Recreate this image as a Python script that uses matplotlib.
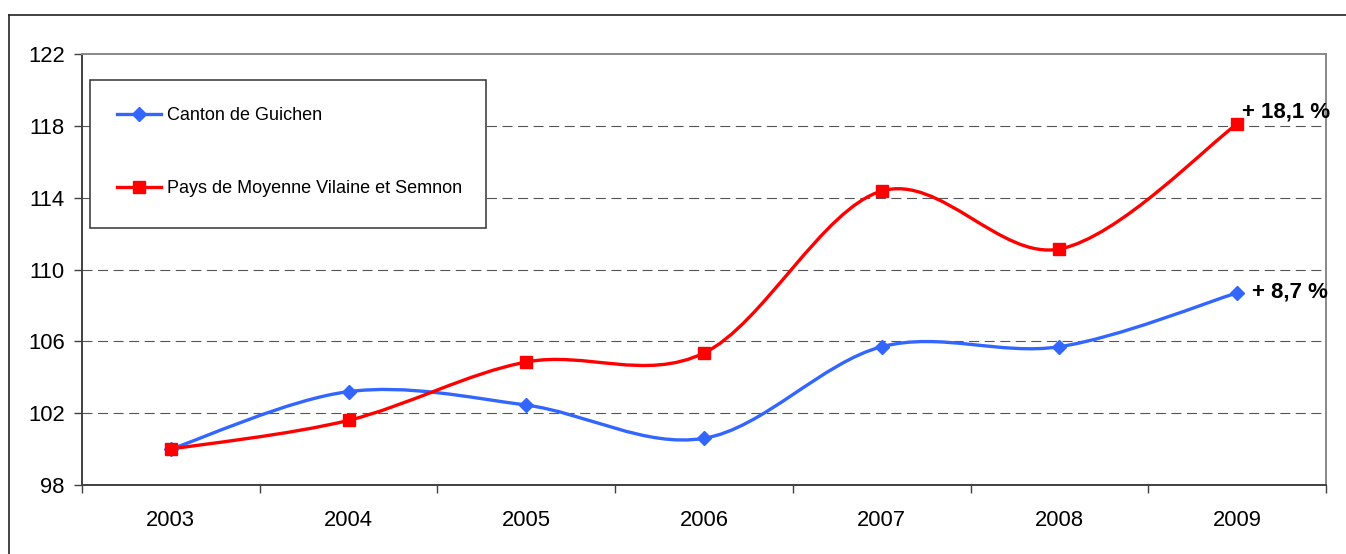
import matplotlib
matplotlib.use("Agg")
import matplotlib.pyplot as plt
from matplotlib.path import Path
from matplotlib.patches import PathPatch, Rectangle
from matplotlib.lines import Line2D

years = ["2003", "2004", "2005", "2006", "2007", "2008", "2009"]
canton = [100.0, 103.2, 102.45, 100.6, 105.7, 105.7, 108.7]
pays = [100.0, 101.6, 104.85, 105.35, 114.37, 111.14, 118.1]
labels = ["Canton de Guichen", "Pays de Moyenne Vilaine et Semnon"]
end_labels = ["+ 8,7 %", "+ 18,1 %"]
yticks = [98, 102, 106, 110, 114, 118, 122]

plt.rcParams['font.family'] = ['Liberation Sans', 'DejaVu Sans']

W, H = 1346, 554
fig = plt.figure(figsize=(W / 100, H / 100), dpi=100)
fig.patch.set_facecolor('white')

x0, x1, yb, yt = 82, 1326, 485, 54
ax = fig.add_axes([x0 / W, 1 - yb / H, (x1 - x0) / W, (yb - yt) / H])

BLUE = '#3366FF'
RED = '#FF0000'


def smooth_path(xs, ys):
    pts = list(zip(xs, ys))
    n = len(pts)
    verts = [pts[0]]
    codes = [Path.MOVETO]
    for i in range(n - 1):
        p0 = pts[max(i - 1, 0)]
        p1 = pts[i]
        p2 = pts[i + 1]
        p3 = pts[min(i + 2, n - 1)]
        c1 = (p1[0] + (p2[0] - p0[0]) / 6, p1[1] + (p2[1] - p0[1]) / 6)
        c2 = (p2[0] - (p3[0] - p1[0]) / 6, p2[1] - (p3[1] - p1[1]) / 6)
        verts += [c1, c2, p2]
        codes += [Path.CURVE4] * 3
    return Path(verts, codes)


xs = list(range(len(years)))
for vals, col, mk, ms in [(canton, BLUE, 'D', 7), (pays, RED, 's', 9)]:
    ax.add_patch(PathPatch(smooth_path(xs, vals), fill=False, edgecolor=col,
                           lw=2.4, zorder=3, capstyle='round', joinstyle='round'))
    ax.plot(xs, vals, linestyle='none', marker=mk, markersize=ms, color=col,
            markeredgecolor=col, zorder=4)

ax.set_xlim(-0.5, len(years) - 0.5)
ax.set_ylim(98, 122)

# grid
for yv in yticks[1:-1]:
    ax.axhline(yv, color='#555555', lw=0.8, linestyle=(0, (9, 5)), zorder=1)

ax.set_yticks(yticks)
ax.set_yticklabels([str(v) for v in yticks])
ax.set_xticks(xs)
ax.set_xticklabels(years)
ax.set_xticks([i - 0.5 for i in range(len(years) + 1)], minor=True)
ax.tick_params(axis='x', which='major', length=0, pad=18, labelsize=15.8)
ax.tick_params(axis='x', which='minor', length=5.5, width=1, color='#404040')
ax.tick_params(axis='y', which='major', length=5.5, width=1, color='#404040',
               pad=7, labelsize=15.8)

for s in ['left', 'bottom']:
    ax.spines[s].set_color('#404040')
    ax.spines[s].set_linewidth(1.4)
for s in ['top', 'right']:
    ax.spines[s].set_color('#888888')
    ax.spines[s].set_linewidth(1.4)

# end labels
ax.annotate(end_labels[1], (xs[-1], pays[-1]), xytext=(5, 12),
            textcoords='offset pixels', ha='left', va='center',
            fontsize=16, fontweight='bold', zorder=5)
ax.annotate(end_labels[0], (xs[-1], canton[-1]), xytext=(15, 1),
            textcoords='offset pixels', ha='left', va='center',
            fontsize=16, fontweight='bold', zorder=5)

# legend box
fig.add_artist(Rectangle((90 / W, 1 - 228 / H), (486 - 90) / W, (228 - 80) / H,
                         transform=fig.transFigure, fill=True, facecolor='white',
                         edgecolor='#333333', lw=1.1, zorder=5))
handles = [Line2D([], [], color=BLUE, lw=2.4, marker='D', markersize=7),
           Line2D([], [], color=RED, lw=2.4, marker='s', markersize=9)]
leg = fig.legend(handles, labels, loc='upper left',
                 bbox_to_anchor=(117 / W, 1 - 107 / H),
                 frameon=False, fontsize=13, borderpad=0, borderaxespad=0,
                 handlelength=2.45, handletextpad=0.3, labelspacing=3.1,
                 markerscale=1.0)
leg.set_zorder(6)
for t in leg.get_texts():
    t.set_color('black')

# outer figure frame
fig.add_artist(Line2D([9 / W, 9 / W], [0, 1 - 15 / H], transform=fig.transFigure,
                      color='#222222', lw=1.2))
fig.add_artist(Line2D([9 / W, 1], [1 - 15 / H, 1 - 15 / H], transform=fig.transFigure,
                      color='#222222', lw=1.2))

fig.savefig('out.png', dpi=100, facecolor='white')
